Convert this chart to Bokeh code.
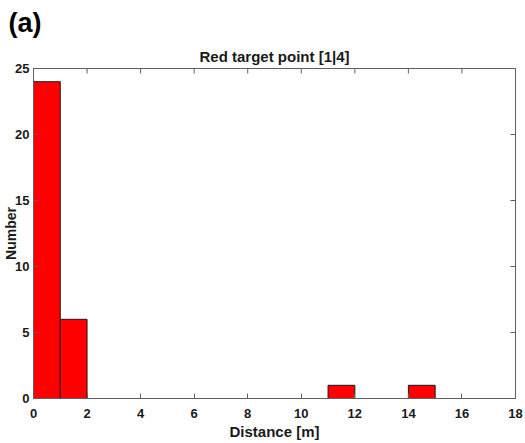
import math
from bokeh.plotting import figure
from bokeh.models import FixedTicker, Title, ColumnDataSource, Range1d
from bokeh.embed import file_html
from bokeh.resources import INLINE

# Histogram data (bin width 1 m)
bin_left = [0, 1, 2, 3, 4, 5, 6, 7, 8, 9, 10, 11, 12, 13, 14]
counts = [24, 6, 0, 0, 0, 0, 0, 0, 0, 0, 0, 1, 0, 0, 1]
x_ticks = [0, 2, 4, 6, 8, 10, 12, 14, 16, 18]
y_ticks = [0, 5, 10, 15, 20, 25]
title_text = "Red target point [1|4]"
x_label = "Distance [m]"
y_label = "Number"
panel_label = "(a)"

nz = [(l, c) for l, c in zip(bin_left, counts) if c > 0]
src = ColumnDataSource(dict(
    left=[l for l, c in nz],
    right=[l + 1 for l, c in nz],
    top=[c for l, c in nz],
    bottom=[0 for l, c in nz],
))

AX = "#5f5f5f"
TXT = "#1a1a1a"
FONT = "Liberation Sans"

W, H = 525, 443
XMAX, YMAX = 18, 25
BL, BR, BT, BB = 33, 10, 68, 45
FW, FH = W - BL - BR, H - BT - BB

p = figure(
    width=W, height=H,
    min_border_left=BL, min_border_right=BR, min_border_top=BT, min_border_bottom=BB,
    x_range=Range1d(0, XMAX), y_range=Range1d(0, YMAX),
    output_backend="svg", toolbar_location=None,
    background_fill_color="white", border_fill_color="white",
)
p.grid.visible = False
p.outline_line_color = AX
p.outline_line_width = 1

# outermost title: panel label "(a)"
p.title.text = panel_label
p.title.align = "left"
p.title.offset = 8 - BL
p.title.text_font = FONT
p.title.text_font_size = "27px"
p.title.text_font_style = "bold"
p.title.text_color = "black"
p.title.standoff = 7

# chart title, nearest the frame
p.add_layout(Title(text=title_text, align="center", text_font=FONT,
                   text_font_size="15px", text_font_style="bold",
                   text_color=TXT, standoff=8), "above")

p.quad(left="left", right="right", top="top", bottom="bottom", source=src,
       fill_color="#ff0000", line_color="#1a1a1a", line_width=1)

for ax, ticks in ((p.xaxis[0], x_ticks), (p.yaxis[0], y_ticks)):
    ax.ticker = FixedTicker(ticks=ticks)
    ax.major_tick_in = 5
    ax.major_tick_out = 0
    ax.minor_tick_in = 0
    ax.minor_tick_out = 0
    ax.axis_line_color = AX
    ax.major_tick_line_color = AX
    ax.major_label_text_font = FONT
    ax.major_label_text_font_style = "bold"
    ax.major_label_text_color = TXT
    ax.major_label_text_font_size = "13px"
    ax.axis_label_text_font = FONT
    ax.axis_label_text_font_style = "bold"
    ax.axis_label_text_color = TXT
p.yaxis[0].major_label_standoff = 4
p.xaxis[0].major_label_standoff = 10

p.xaxis[0].axis_label = x_label
p.xaxis[0].axis_label_text_font_size = "15px"
p.xaxis[0].axis_label_standoff = 2

p.yaxis[0].axis_label = y_label
p.yaxis[0].axis_label_text_font_size = "14px"
p.yaxis[0].axis_label_standoff = -7

# inward ticks on the top and right edges of the box
ty = 5 * YMAX / FH
tx = 5 * XMAX / FW
p.segment(x0=x_ticks, y0=[YMAX] * len(x_ticks), x1=x_ticks, y1=[YMAX - ty] * len(x_ticks),
          line_color=AX, line_width=1)
p.segment(x0=[XMAX] * len(y_ticks), y0=y_ticks, x1=[XMAX - tx] * len(y_ticks), y1=y_ticks,
          line_color=AX, line_width=1)

open("out.html", "w").write(file_html(p, INLINE))
